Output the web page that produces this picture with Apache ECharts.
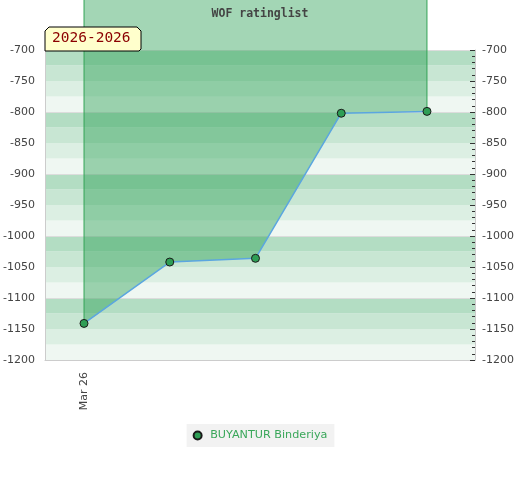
<!DOCTYPE html>
<html>
<head>
<meta charset="utf-8">
<script src="https://cdn.jsdelivr.net/npm/echarts@6/dist/echarts.min.js"></script>
<style>html,body{margin:0;padding:0;background:#fff;}#c{width:520px;height:480px;}</style>
</head>
<body>
<div id="c"></div>
<script>
const titleText = 'WOF ratinglist';
const periodText = '2026-2026';
const seriesName = 'BUYANTUR Binderiya';
const dateLabels = ['Mar 26', '', '', '', ''];
const xIndex = [0, 1, 2, 3, 4];
const ratings = [-1141, -1042, -1036, -802, -799];
const yMin = -1200, yMax = -700, areaTop = -619;

const chart = echarts.init(document.getElementById('c'));
const pts = xIndex.map((x, i) => [x, ratings[i]]);
const last = xIndex.length - 1;

chart.setOption({
  animation: false,
  title: {
    text: titleText, left: 'center', top: 3,
    textStyle: { fontFamily: 'DejaVu Sans Mono', fontWeight: 'bold', fontSize: 11.5, color: '#444' }
  },
  grid: { left: 45, right: 45, top: 50, bottom: 120 },
  legend: {
    data: [seriesName], top: 424, left: 'center',
    backgroundColor: '#f2f2f2', padding: [6, 7, 6, 6],
    icon: 'circle', itemWidth: 15, itemHeight: 8,
    textStyle: { color: '#3aa75a', fontSize: 11.2, fontFamily: 'DejaVu Sans' }
  },
  xAxis: {
    type: 'value', min: -0.455, max: 4.56,
    splitLine: { show: false }, axisTick: { show: false },
    axisLine: { show: true, onZero: false, lineStyle: { color: '#ccc' } },
    axisLabel: {
      rotate: 90, margin: 12, fontSize: 11, color: '#444', fontFamily: 'DejaVu Sans',
      showMinLabel: false, showMaxLabel: false,
      formatter: v => { const r = Math.round(v); return Math.abs(v - r) < 1e-9 ? (dateLabels[r] || '') : ''; }
    }
  },
  yAxis: [{
    type: 'value', position: 'left', min: yMin, max: yMax, interval: 25,
    axisLine: { show: true, onZero: false, lineStyle: { color: '#ccc' } },
    axisTick: { show: false },
    axisLabel: { fontSize: 11, color: '#444', margin: 10, fontFamily: 'DejaVu Sans',
      formatter: v => (v % 50 === 0 ? String(v) : '') },
    splitLine: { show: true, lineStyle: { color: ['#dcdcdc', 'rgba(0,0,0,0)', 'rgba(0,0,0,0)', 'rgba(0,0,0,0)'] } },
    splitArea: { show: true, areaStyle: { color: ['#eff7f2', '#dcefe3', '#c8e6d3', '#b3ddc3'] } }
  }, {
    type: 'value', position: 'right', min: yMin, max: yMax, interval: 50,
    axisLine: { show: true, onZero: false, lineStyle: { color: '#ccc' } },
    axisTick: { show: true, inside: true, length: 5, lineStyle: { color: '#333' } },
    minorTick: { show: true, splitNumber: 5, length: 3, lineStyle: { color: '#333' } },
    axisLabel: { fontSize: 11, color: '#444', margin: 7, fontFamily: 'DejaVu Sans',
      formatter: v => String(v) },
    splitLine: { show: false }
  }],
  graphic: [{
    type: 'polygon', z: 100,
    shape: { points: [[45, 31], [49, 27], [137, 27], [141, 31], [141, 49], [139, 51], [45, 51]] },
    style: { fill: '#ffffcc', stroke: '#000', lineWidth: 1 }
  }, {
    type: 'text', z: 101, left: 52, top: 31,
    style: { text: periodText, fill: '#8b0000', font: '14.5px "DejaVu Sans Mono"' }
  }],
  series: [{
    name: seriesName, type: 'line', data: pts, clip: false, z: 3,
    symbol: 'circle', symbolSize: 8,
    itemStyle: { color: '#2e9e55', borderColor: '#1a1a1a', borderWidth: 1 },
    lineStyle: { color: '#5ba6e0', width: 1.5 },
    areaStyle: { color: 'rgba(36,157,79,0.42)', origin: areaTop, opacity: 1 }
  }, {
    name: 'edgeL', type: 'line', data: [[xIndex[0], areaTop], [xIndex[0], ratings[0]]], clip: false,
    symbol: 'none', silent: true, z: 2, lineStyle: { color: '#3aa75a', width: 1 }
  }, {
    name: 'edgeR', type: 'line', data: [[xIndex[last], areaTop], [xIndex[last], ratings[last]]], clip: false,
    symbol: 'none', silent: true, z: 2, lineStyle: { color: '#3aa75a', width: 1 }
  }]
});
</script>
</body>
</html>
